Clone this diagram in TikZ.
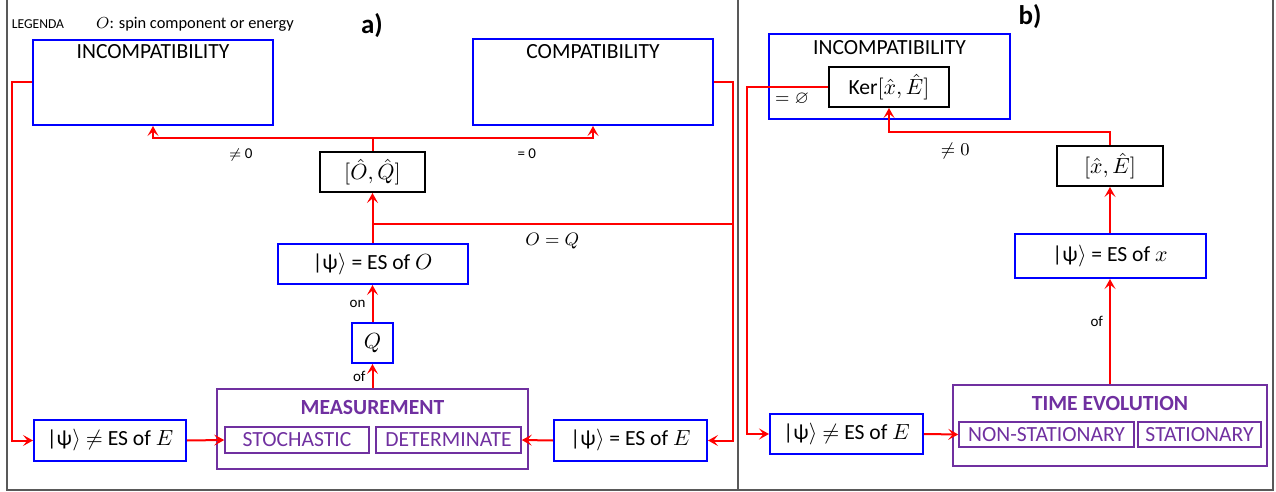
\documentclass[tikz,border=0pt]{standalone}
\usepackage{amsmath,amssymb}
\usepackage{fontspec}
\setmainfont{Carlito}
\usepackage{xcolor}
\usepackage{tikz}
\usetikzlibrary{arrows.meta}
\colorlet{dblue}{blue}
\definecolor{dpurple}{RGB}{112,48,160}
\colorlet{framegray}{black!65}
\newcommand\boxfont{\fontsize{10.8}{13}\selectfont}
\newcommand\tagfont{\fontsize{7.5}{8}\selectfont}
\newcommand\mtagfont{\fontsize{9}{10}\selectfont}
\newcommand\ket{|ψ\kern.2pt$\rangle$}
\tikzstyle{state}=[draw=dblue,line width=1pt,inner sep=0pt,font=\boxfont]
\tikzstyle{comm}=[draw=black,line width=1pt,inner sep=0pt,font=\boxfont]
\tikzstyle{proc}=[draw=dpurple,line width=.8pt,inner sep=0pt,text=dpurple,font=\boxfont]
\tikzstyle{flow}=[draw=red,line width=1pt,-{Stealth[length=5pt,width=5.5pt,inset=2.2pt]}]
\tikzstyle{wire}=[draw=red,line width=1pt]
\tikzstyle{tag}=[font=\tagfont,inner sep=1pt]
\tikzstyle{mtag}=[font=\mtagfont,inner sep=1pt]

\begin{document}
\begin{tikzpicture}[x=0.5pt,y=-0.5pt]
	\useasboundingbox (0,0) rectangle (1276,492);
	\draw[framegray,line width=1pt] (7,-10) rectangle (1273,490);
	\draw[framegray,line width=1pt] (738,-10) -- (738,490);
	% legend and panel titles
	\node[font=\fontsize{6.8}{7}\selectfont,inner sep=0pt] (legend) at (38,24) {LEGENDA};
	\node[font=\fontsize{8.2}{9}\selectfont,inner sep=0pt] (legendO) at (195,24) {$O$: spin component or energy};
	\node[font=\fontsize{13.5}{15}\selectfont\bfseries] (titA) at (372,26) {a)};
	\node[font=\fontsize{13.5}{15}\selectfont\bfseries] (titB) at (1030,17) {b)};
	% panel a
	\node[state,minimum width=120pt,minimum height=42.5pt,
	  label={[anchor=north,inner sep=2.5pt,font=\boxfont]north:INCOMPATIBILITY}] (incA) at (153,82.5) {};
	\node[state,minimum width=120pt,minimum height=43pt,
	  label={[anchor=north,inner sep=3pt,font=\boxfont]north:COMPATIBILITY}] (compA) at (593,82) {};
	\node[comm,minimum width=52.5pt,minimum height=20pt] (commA) at (372.5,172) {$[\hat{O},\hat{Q}]$};
	\node[state,minimum width=95pt,minimum height=20pt] (esO) at (372.5,264) {\ket{} = ES of $O$};
	\node[state,minimum width=20.5pt,minimum height=20pt] (qbox) at (372.5,343) {$Q$};
	\node[proc,minimum width=155.5pt,minimum height=40pt,
	  label={[anchor=north,inner sep=6pt,font=\boxfont\bfseries,text=dpurple]north:MEASUREMENT}] (meas) at (372.5,429) {};
	\node[proc,minimum width=72pt,minimum height=13pt] (stoch) at (297,440) {STOCHASTIC};
	\node[proc,minimum width=72.5pt,minimum height=13pt] (deter) at (448.5,440) {DETERMINATE};
	\node[state,minimum width=76pt,minimum height=20.5pt] (neqEa) at (110,440.5) {\ket{} $\neq$ ES of $E$};
	\node[state,minimum width=76.5pt,minimum height=20.5pt] (eqEa) at (630.5,440.5) {\ket{} = ES of $E$};
	\coordinate (rbus) at (732,224);
	\draw[flow] (commA.north) -- ++(0,-13) -| node[tag,pos=0.3,below=4pt]{$\neq$ 0} (incA.south);
	\draw[flow] (commA.north) -- ++(0,-13) -| node[tag,pos=0.35,below=4pt]{= 0} (compA.south);
	\draw[flow] (esO.north) -- (commA.south);
	\draw[wire] (rbus) -- node[mtag,below=3pt,pos=0.5]{$O = Q$} (rbus -| esO.north);
	\draw[flow] (qbox.north) -- node[tag,left=2pt]{on} (esO.south);
	\draw[flow] (meas.north) -- node[tag,left=2pt]{of} (qbox.south);
	\draw[flow] (incA.west) -- ++(-20,0) |- (neqEa.west);
	\draw[flow] (compA.east) -- ++(19,0) |- (eqEa.east);
	\draw[flow] (neqEa.east) -- (stoch.west);
	\draw[flow] (eqEa.west) -- (deter.east);
	% panel b
	\node[state,minimum width=120.5pt,minimum height=42.5pt,
	  label={[anchor=north,inner sep=3.5pt,font=\boxfont]north:INCOMPATIBILITY}] (incB) at (889.5,76.5) {};
	\node[comm,minimum width=60pt,minimum height=20pt] (ker) at (889,87) {Ker$[\hat{x},\hat{E}]$};
	\node[mtag] (empty) at (792,99) {$=\varnothing$};
	\node[comm,minimum width=53pt,minimum height=20pt] (commB) at (1110,166) {$[\hat{x},\hat{E}]$};
	\node[state,minimum width=95.5pt,minimum height=22pt] (esx) at (1110,256) {\ket{} = ES of $x$};
	\node[proc,minimum width=157pt,minimum height=40.5pt,
	  label={[anchor=north,inner sep=6pt,font=\boxfont\bfseries,text=dpurple]north:TIME EVOLUTION}] (tev) at (1110,425.5) {};
	\node[proc,minimum width=87.5pt,minimum height=12.5pt] (nonst) at (1046.5,434.5) {NON-STATIONARY};
	\node[proc,minimum width=61.5pt,minimum height=12.5pt] (stat) at (1199.5,434.5) {STATIONARY};
	\node[state,minimum width=76.5pt,minimum height=20pt] (neqEb) at (846.5,434) {\ket{} $\neq$ ES of $E$};
	\draw[flow] (commB.north) -- ++(0,-13) -| node[mtag,pos=0.35,below=4pt]{$\neq 0$} (ker.south);
	\draw[flow] (esx.north) -- (commB.south);
	\draw[flow] (tev.north) -- node[tag,left=2pt,pos=0.6]{of} (esx.south);
	\draw[flow] (ker.west) -- ++(-81,0) |- (neqEb.west);
	\draw[flow] (neqEb.east) -- (nonst.west);
\end{tikzpicture}
\end{document}
